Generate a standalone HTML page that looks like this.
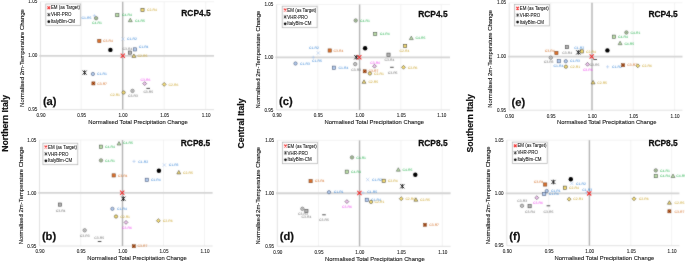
<!DOCTYPE html>
<html><head><meta charset="utf-8"><style>
html,body{margin:0;padding:0;background:#fff;}
svg{display:block;will-change:transform;}
.l{text-rendering:geometricPrecision;}
text{font-family:"Liberation Sans", sans-serif;}
</style></head><body>
<svg width="685" height="262" viewBox="0 0 685 262" font-family='"Liberation Sans", sans-serif'>
<defs><filter id="soft" filterUnits="userSpaceOnUse" x="0" y="0" width="685" height="262" color-interpolation-filters="sRGB"><feConvolveMatrix order="3" kernelMatrix="1 2 1 2 20 2 1 2 1" divisor="32" edgeMode="duplicate"/></filter></defs>
<g filter="url(#soft)">
<rect width="685" height="262" fill="#fff"/>
<path d="M81.2 1.7V109.6" stroke="#eeeeee" stroke-width="0.7"/>
<path d="M164.2 1.7V109.6" stroke="#eeeeee" stroke-width="0.7"/>
<path d="M205.7 1.7V109.6" stroke="#eeeeee" stroke-width="0.7"/>
<path d="M40.5 1.7H214" stroke="#eeeeee" stroke-width="0.7"/>
<path d="M40.5 1.7V109.6H214" stroke="#d9d9d9" stroke-width="0.8" fill="none"/>
<path d="M39.3 55.85H214" stroke="#d4d4d4" stroke-width="1.8"/>
<path d="M122.7 1.7V109.6" stroke="#b4b4b4" stroke-width="1.4"/>
<rect x="45.8" y="4" width="34.9" height="21.5" fill="#fff" stroke="#b0b0b0" stroke-width="0.7"/>
<path d="M47.45 6.4l2.7 2.7M50.15 6.4l-2.7 2.7" stroke="#f02020" stroke-width="1.15"/>
<path d="M47.5 13.4l2.6 2.6M50.1 13.4l-2.6 2.6M48.8 13.2v3" stroke="#202020" stroke-width="0.9"/>
<circle cx="48.8" cy="21.65" r="1.35" fill="#000"/>
<text class="l" x="91.4" y="19.1" fill="#2f7fd4" font-size="3.4" text-anchor="end">C1-R5</text>
<text class="l" x="92.1" y="23.7" fill="#22b04a" font-size="3.4" text-anchor="start">C4-R1</text>
<text class="l" x="122" y="16.3" fill="#22b04a" font-size="3.4" text-anchor="start">C4-R4</text>
<text class="l" x="135" y="21.5" fill="#22b04a" font-size="3.4" text-anchor="start">C4-R5</text>
<text class="l" x="147" y="11.1" fill="#c9a227" font-size="3.4" text-anchor="start">C2-R4</text>
<text class="l" x="103" y="42.2" fill="#d2691e" font-size="3.4" text-anchor="start">C3-R4</text>
<text class="l" x="127" y="40.2" fill="#2f7fd4" font-size="3.4" text-anchor="start">C1-R2</text>
<text class="l" x="122.5" y="49.6" fill="#6a6a6a" font-size="3.4" text-anchor="start">C3-R4</text>
<text class="l" x="138.7" y="48.2" fill="#2f7fd4" font-size="3.4" text-anchor="start">C1-R4</text>
<text class="l" x="137.6" y="57.2" fill="#c9a227" font-size="3.4" text-anchor="start">C2-R5</text>
<text class="l" x="97" y="75.2" fill="#2f7fd4" font-size="3.4" text-anchor="start">C1-R1</text>
<text class="l" x="97.2" y="84.6" fill="#d2691e" font-size="3.4" text-anchor="start">C3-R7</text>
<text class="l" x="140.6" y="80.7" fill="#ee3fee" font-size="3.4" text-anchor="start">C3-R6</text>
<text class="l" x="168.6" y="85.6" fill="#c9a227" font-size="3.4" text-anchor="start">C2-R6</text>
<text class="l" x="128" y="97.2" fill="#6a6a6a" font-size="3.4" text-anchor="start">C3-R3</text>
<text class="l" x="143.4" y="92.9" fill="#6a6a6a" font-size="3.4" text-anchor="start">C3-R5</text>
<text class="l" x="120" y="96.2" fill="#c9a227" font-size="3.4" text-anchor="end">C2-R1</text>
<path d="M92.8 15.7h3.2M94.4 14.1v3.2" stroke="#a8c4ec" stroke-width="0.6"/>
<circle cx="96.1" cy="18.2" r="1.7" fill="#c4e8b0" stroke="#505050" stroke-width="0.6"/><path d="M94.9 18.2h2.4M96.1 17v2.4" stroke="#606060" stroke-width="0.3"/>
<rect x="115.7" y="13.5" width="3.2" height="3.2" fill="#bde0a8" stroke="#505e50" stroke-width="0.6"/>
<path d="M130.3 18.25L132.25 21.7H128.35Z" fill="#bde0a8" stroke="#505e50" stroke-width="0.6"/>
<rect x="140.9" y="8.3" width="3.2" height="3.2" fill="#f6dc70" stroke="#545040" stroke-width="0.6"/>
<rect x="97.7" y="39.4" width="3.2" height="3.2" fill="#e0702a" stroke="#7a4a2a" stroke-width="0.6"/>
<path d="M121.4 37.4L124.6 40.6M124.6 37.4L121.4 40.6" stroke="#a8c4ec" stroke-width="0.6"/>
<rect x="128.4" y="51" width="3.2" height="3.2" fill="#b4b4b4" stroke="#4a4a4a" stroke-width="0.6"/>
<rect x="133.4" y="47.8" width="3.2" height="3.2" fill="#b4ccef" stroke="#4e5e7c" stroke-width="0.6"/>
<path d="M133.9 53.95L135.85 57.4H131.95Z" fill="#f6dc70" stroke="#545040" stroke-width="0.6"/>
<circle cx="92.9" cy="74" r="1.65" fill="#b4ccef" stroke="#4e5e7c" stroke-width="0.6"/>
<rect x="91.85" y="81.85" width="3.1" height="3.1" fill="#e0702a" stroke="#7a4a2a" stroke-width="0.5"/><path d="M92.1 82.1L94.7 84.7M94.7 82.1L92.1 84.7" stroke="#5a2008" stroke-width="0.6"/>
<path d="M144.7 81.65L146.65 83.6L144.7 85.55L142.75 83.6Z" fill="#f0c4f0" stroke="#5a4a5a" stroke-width="0.6"/>
<path d="M164.2 82.45L166.15 84.4L164.2 86.35L162.25 84.4Z" fill="#f6dc70" stroke="#545040" stroke-width="0.6"/>
<circle cx="132.5" cy="90.9" r="1.7" fill="#eeeeee" stroke="#505050" stroke-width="0.6"/><path d="M131.3 90.9h2.4M132.5 89.7v2.4" stroke="#606060" stroke-width="0.3"/>
<path d="M146.4 88.4h3.6" stroke="#3a3a3a" stroke-width="0.9"/>
<circle cx="123.6" cy="92.5" r="1.65" fill="#f6dc70" stroke="#545040" stroke-width="0.6"/>
<circle cx="110.4" cy="49.9" r="2.2" fill="#000"/>
<path d="M120.7 53.7L124.9 57.9M124.9 53.7L120.7 57.9" stroke="#f03030" stroke-width="1.1"/>
<path d="M82.55 70.55L86.65 74.65M86.65 70.55L82.55 74.65M84.6 70.3V74.9" stroke="#1a1a1a" stroke-width="0.95"/>
<path d="M80.7 140V246" stroke="#eeeeee" stroke-width="0.7"/>
<path d="M163.5 140V246" stroke="#eeeeee" stroke-width="0.7"/>
<path d="M204.5 140V246" stroke="#eeeeee" stroke-width="0.7"/>
<path d="M39.5 140H212.6" stroke="#eeeeee" stroke-width="0.7"/>
<path d="M39.5 140V246H212.6" stroke="#d9d9d9" stroke-width="0.8" fill="none"/>
<path d="M38.3 192.95H212.6" stroke="#d4d4d4" stroke-width="1.8"/>
<path d="M122.5 140V246" stroke="#b4b4b4" stroke-width="1.4"/>
<rect x="42.9" y="143.2" width="34.9" height="21.5" fill="#fff" stroke="#b0b0b0" stroke-width="0.7"/>
<path d="M44.55 145.6l2.7 2.7M47.25 145.6l-2.7 2.7" stroke="#f02020" stroke-width="1.15"/>
<path d="M44.6 152.6l2.6 2.6M47.2 152.6l-2.6 2.6M45.9 152.4v3" stroke="#202020" stroke-width="0.9"/>
<circle cx="45.9" cy="160.85" r="1.35" fill="#000"/>
<text class="l" x="123" y="144.4" fill="#22b04a" font-size="3.4" text-anchor="start">C4-R5</text>
<text class="l" x="105" y="147.9" fill="#22b04a" font-size="3.4" text-anchor="start">C4-R4</text>
<text class="l" x="105" y="161.6" fill="#22b04a" font-size="3.4" text-anchor="start">C4-R1</text>
<text class="l" x="138.3" y="162.6" fill="#2f7fd4" font-size="3.4" text-anchor="start">C1-R2</text>
<text class="l" x="168.7" y="166.2" fill="#2f7fd4" font-size="3.4" text-anchor="start">C1-R3</text>
<text class="l" x="117.7" y="176.6" fill="#d2691e" font-size="3.4" text-anchor="start">C3-R4</text>
<text class="l" x="150.9" y="181" fill="#2f7fd4" font-size="3.4" text-anchor="start">C1-R4</text>
<text class="l" x="183" y="173.7" fill="#c9a227" font-size="3.4" text-anchor="start">C2-R5</text>
<text class="l" x="55.7" y="211.5" fill="#6a6a6a" font-size="3.4" text-anchor="start">C3-R4</text>
<text class="l" x="117" y="210" fill="#2f7fd4" font-size="3.4" text-anchor="start">C1-R4</text>
<text class="l" x="120.2" y="217.7" fill="#c9a227" font-size="3.4" text-anchor="start">C2-R1</text>
<text class="l" x="122" y="228.8" fill="#ee3fee" font-size="3.4" text-anchor="start">C3-R6</text>
<text class="l" x="162.8" y="221.9" fill="#c9a227" font-size="3.4" text-anchor="start">C2-R6</text>
<text class="l" x="79.8" y="236.5" fill="#6a6a6a" font-size="3.4" text-anchor="start">C3-R3</text>
<text class="l" x="94.3" y="239.4" fill="#6a6a6a" font-size="3.4" text-anchor="start">C3-R5</text>
<text class="l" x="137.5" y="247.4" fill="#d2691e" font-size="3.4" text-anchor="start">C3-R7</text>
<path d="M119 141.55L120.95 145H117.05Z" fill="#bde0a8" stroke="#505e50" stroke-width="0.6"/>
<rect x="99.4" y="145.1" width="3.2" height="3.2" fill="#bde0a8" stroke="#505e50" stroke-width="0.6"/>
<circle cx="101" cy="160.4" r="1.7" fill="#c4e8b0" stroke="#505050" stroke-width="0.6"/><path d="M99.8 160.4h2.4M101 159.2v2.4" stroke="#606060" stroke-width="0.3"/>
<path d="M132.4 161.4h3.2M134 159.8v3.2" stroke="#a8c4ec" stroke-width="0.6"/>
<path d="M162.8 163.4L166 166.6M166 163.4L162.8 166.6" stroke="#a8c4ec" stroke-width="0.6"/>
<rect x="112.1" y="173.8" width="3.2" height="3.2" fill="#e0702a" stroke="#7a4a2a" stroke-width="0.6"/>
<rect x="145.2" y="178.2" width="3.2" height="3.2" fill="#b4ccef" stroke="#4e5e7c" stroke-width="0.6"/>
<path d="M178.8 170.45L180.75 173.9H176.85Z" fill="#f6dc70" stroke="#545040" stroke-width="0.6"/>
<rect x="58.4" y="203" width="3.2" height="3.2" fill="#b4b4b4" stroke="#4a4a4a" stroke-width="0.6"/>
<circle cx="112.4" cy="208.8" r="1.65" fill="#b4ccef" stroke="#4e5e7c" stroke-width="0.6"/>
<circle cx="116" cy="216.5" r="1.65" fill="#f6dc70" stroke="#545040" stroke-width="0.6"/>
<path d="M126 220.45L127.95 222.4L126 224.35L124.05 222.4Z" fill="#f0c4f0" stroke="#5a4a5a" stroke-width="0.6"/>
<path d="M158.4 218.75L160.35 220.7L158.4 222.65L156.45 220.7Z" fill="#f6dc70" stroke="#545040" stroke-width="0.6"/>
<circle cx="84.7" cy="230.3" r="1.7" fill="#eeeeee" stroke="#505050" stroke-width="0.6"/><path d="M83.5 230.3h2.4M84.7 229.1v2.4" stroke="#606060" stroke-width="0.3"/>
<path d="M97.8 241.5h3.6" stroke="#3a3a3a" stroke-width="0.9"/>
<rect x="132.25" y="244.65" width="3.1" height="3.1" fill="#e0702a" stroke="#7a4a2a" stroke-width="0.5"/><path d="M132.5 244.9L135.1 247.5M135.1 244.9L132.5 247.5" stroke="#5a2008" stroke-width="0.6"/>
<circle cx="158.9" cy="170.8" r="2.2" fill="#000"/>
<path d="M120.1 190.6L124.3 194.8M124.3 190.6L120.1 194.8" stroke="#f03030" stroke-width="1.1"/>
<path d="M121.35 196.65L125.45 200.75M125.45 196.65L121.35 200.75M123.4 196.4V201" stroke="#1a1a1a" stroke-width="0.95"/>
<path d="M317.8 4.5V109.9" stroke="#eeeeee" stroke-width="0.7"/>
<path d="M400.8 4.5V109.9" stroke="#eeeeee" stroke-width="0.7"/>
<path d="M441.3 4.5V109.9" stroke="#eeeeee" stroke-width="0.7"/>
<path d="M276.6 4.5H450" stroke="#eeeeee" stroke-width="0.7"/>
<path d="M276.6 4.5V109.9H450" stroke="#d9d9d9" stroke-width="0.8" fill="none"/>
<path d="M275.4 57.4H450" stroke="#d4d4d4" stroke-width="1.8"/>
<path d="M359.6 4.5V109.9" stroke="#b4b4b4" stroke-width="1.4"/>
<rect x="282.2" y="6.2" width="34.9" height="21.5" fill="#fff" stroke="#b0b0b0" stroke-width="0.7"/>
<path d="M283.85 8.6l2.7 2.7M286.55 8.6l-2.7 2.7" stroke="#f02020" stroke-width="1.15"/>
<path d="M283.9 15.6l2.6 2.6M286.5 15.6l-2.6 2.6M285.2 15.4v3" stroke="#202020" stroke-width="0.9"/>
<circle cx="285.2" cy="23.85" r="1.35" fill="#000"/>
<text class="l" x="309" y="49.4" fill="#2f7fd4" font-size="3.4" text-anchor="start">C1-R2</text>
<text class="l" x="312" y="62.2" fill="#2f7fd4" font-size="3.4" text-anchor="start">C1-R5</text>
<text class="l" x="300" y="64.7" fill="#2f7fd4" font-size="3.4" text-anchor="start">C1-R3</text>
<text class="l" x="333.6" y="51.7" fill="#d2691e" font-size="3.4" text-anchor="start">C3-R4</text>
<text class="l" x="338.5" y="68.9" fill="#2f7fd4" font-size="3.4" text-anchor="start">C1-R4</text>
<text class="l" x="351.2" y="70.6" fill="#6a6a6a" font-size="3.4" text-anchor="start">C3-R3</text>
<text class="l" x="360" y="21.7" fill="#22b04a" font-size="3.4" text-anchor="start">C4-R1</text>
<text class="l" x="379.8" y="35.2" fill="#22b04a" font-size="3.4" text-anchor="start">C4-R4</text>
<text class="l" x="415.5" y="39.4" fill="#22b04a" font-size="3.4" text-anchor="start">C4-R5</text>
<text class="l" x="399.5" y="52.1" fill="#c9a227" font-size="3.4" text-anchor="start">C2-R4</text>
<text class="l" x="384.6" y="61.1" fill="#6a6a6a" font-size="3.4" text-anchor="start">C3-R4</text>
<text class="l" x="370.3" y="63.7" fill="#ee3fee" font-size="3.4" text-anchor="start">C3-R6</text>
<text class="l" x="368.6" y="72" fill="#d2691e" font-size="3.4" text-anchor="start">C3-R7</text>
<text class="l" x="374" y="74.7" fill="#c9a227" font-size="3.4" text-anchor="start">C2-R1</text>
<text class="l" x="387.7" y="73.7" fill="#6a6a6a" font-size="3.4" text-anchor="start">C3-R5</text>
<text class="l" x="407.7" y="68.5" fill="#c9a227" font-size="3.4" text-anchor="start">C2-R6</text>
<text class="l" x="368.4" y="83.1" fill="#c9a227" font-size="3.4" text-anchor="start">C2-R5</text>
<path d="M316.7 51.4L319.9 54.6M319.9 51.4L316.7 54.6" stroke="#a8c4ec" stroke-width="0.6"/>
<path d="M311.7 57.3h3.2M313.3 55.7v3.2" stroke="#a8c4ec" stroke-width="0.6"/>
<circle cx="295.5" cy="63.5" r="1.65" fill="#b4ccef" stroke="#4e5e7c" stroke-width="0.6"/>
<rect x="328.1" y="48.9" width="3.2" height="3.2" fill="#e0702a" stroke="#7a4a2a" stroke-width="0.6"/>
<rect x="332.3" y="66.1" width="3.2" height="3.2" fill="#b4ccef" stroke="#4e5e7c" stroke-width="0.6"/>
<circle cx="355.2" cy="64.1" r="1.7" fill="#eeeeee" stroke="#505050" stroke-width="0.6"/><path d="M354 64.1h2.4M355.2 62.9v2.4" stroke="#606060" stroke-width="0.3"/>
<circle cx="355.7" cy="20.5" r="1.7" fill="#c4e8b0" stroke="#505050" stroke-width="0.6"/><path d="M354.5 20.5h2.4M355.7 19.3v2.4" stroke="#606060" stroke-width="0.3"/>
<rect x="373.6" y="32.4" width="3.2" height="3.2" fill="#bde0a8" stroke="#505e50" stroke-width="0.6"/>
<path d="M411.3 36.15L413.25 39.6H409.35Z" fill="#bde0a8" stroke="#505e50" stroke-width="0.6"/>
<rect x="403.5" y="44.3" width="3.2" height="3.2" fill="#f6dc70" stroke="#545040" stroke-width="0.6"/>
<rect x="386.9" y="53.1" width="3.2" height="3.2" fill="#b4b4b4" stroke="#4a4a4a" stroke-width="0.6"/>
<path d="M374.5 64.25L376.45 66.2L374.5 68.15L372.55 66.2Z" fill="#f0c4f0" stroke="#5a4a5a" stroke-width="0.6"/>
<rect x="363.15" y="69.75" width="3.1" height="3.1" fill="#e0702a" stroke="#7a4a2a" stroke-width="0.5"/><path d="M363.4 70L366 72.6M366 70L363.4 72.6" stroke="#5a2008" stroke-width="0.6"/>
<circle cx="369.9" cy="73.5" r="1.65" fill="#f6dc70" stroke="#545040" stroke-width="0.6"/>
<path d="M390.1 67.3h3.6" stroke="#3a3a3a" stroke-width="0.9"/>
<path d="M403.5 65.35L405.45 67.3L403.5 69.25L401.55 67.3Z" fill="#f6dc70" stroke="#545040" stroke-width="0.6"/>
<path d="M364 79.85L365.95 83.3H362.05Z" fill="#f6dc70" stroke="#545040" stroke-width="0.6"/>
<circle cx="365.1" cy="48.3" r="2.2" fill="#000"/>
<path d="M354.25 55.25L358.35 59.35M358.35 55.25L354.25 59.35M356.3 55V59.6" stroke="#1a1a1a" stroke-width="0.95"/>
<path d="M357.2 55.2L361.4 59.4M361.4 55.2L357.2 59.4" stroke="#f03030" stroke-width="1.1"/>
<path d="M318.5 140.4V246.3" stroke="#eeeeee" stroke-width="0.7"/>
<path d="M400.9 140.4V246.3" stroke="#eeeeee" stroke-width="0.7"/>
<path d="M442.3 140.4V246.3" stroke="#eeeeee" stroke-width="0.7"/>
<path d="M277.3 140.4H450.6" stroke="#eeeeee" stroke-width="0.7"/>
<path d="M277.3 140.4V246.3H450.6" stroke="#d9d9d9" stroke-width="0.8" fill="none"/>
<path d="M276.1 193.25H450.6" stroke="#d4d4d4" stroke-width="1.8"/>
<path d="M359.55 140.4V246.3" stroke="#b4b4b4" stroke-width="1.4"/>
<rect x="282.5" y="142.2" width="34.9" height="21.5" fill="#fff" stroke="#b0b0b0" stroke-width="0.7"/>
<path d="M284.15 144.6l2.7 2.7M286.85 144.6l-2.7 2.7" stroke="#f02020" stroke-width="1.15"/>
<path d="M284.2 151.6l2.6 2.6M286.8 151.6l-2.6 2.6M285.5 151.4v3" stroke="#202020" stroke-width="0.9"/>
<circle cx="285.5" cy="159.85" r="1.35" fill="#000"/>
<text class="l" x="356.2" y="158.6" fill="#22b04a" font-size="3.4" text-anchor="start">C4-R1</text>
<text class="l" x="351" y="172.9" fill="#22b04a" font-size="3.4" text-anchor="start">C4-R4</text>
<text class="l" x="314.7" y="182.3" fill="#d2691e" font-size="3.4" text-anchor="start">C3-R4</text>
<text class="l" x="372" y="180.9" fill="#2f7fd4" font-size="3.4" text-anchor="start">C1-R2</text>
<text class="l" x="387.8" y="182" fill="#c9a227" font-size="3.4" text-anchor="start">C2-R4</text>
<text class="l" x="402.5" y="171" fill="#22b04a" font-size="3.4" text-anchor="start">C4-R5</text>
<text class="l" x="367.3" y="193.2" fill="#2f7fd4" font-size="3.4" text-anchor="start">C1-R5</text>
<text class="l" x="371" y="200.6" fill="#2f7fd4" font-size="3.4" text-anchor="start">C1-R4</text>
<text class="l" x="374.6" y="203.1" fill="#c9a227" font-size="3.4" text-anchor="start">C2-R1</text>
<text class="l" x="342" y="207.8" fill="#ee3fee" font-size="3.4" text-anchor="start">C3-R6</text>
<text class="l" x="405.4" y="199.9" fill="#c9a227" font-size="3.4" text-anchor="start">C2-R6</text>
<text class="l" x="420" y="201" fill="#c9a227" font-size="3.4" text-anchor="start">C2-R5</text>
<text class="l" x="429.2" y="226" fill="#d2691e" font-size="3.4" text-anchor="start">C3-R7</text>
<text class="l" x="333.7" y="193.4" fill="#2f7fd4" font-size="3.4" text-anchor="start">C1-R1</text>
<text class="l" x="298.1" y="215.3" fill="#6a6a6a" font-size="3.4" text-anchor="start">C3-R3</text>
<text class="l" x="301.5" y="217.9" fill="#6a6a6a" font-size="3.4" text-anchor="start">C3-R4</text>
<text class="l" x="319.1" y="221.4" fill="#6a6a6a" font-size="3.4" text-anchor="start">C3-R5</text>
<circle cx="352" cy="157.4" r="1.7" fill="#c4e8b0" stroke="#505050" stroke-width="0.6"/><path d="M350.8 157.4h2.4M352 156.2v2.4" stroke="#606060" stroke-width="0.3"/>
<rect x="345.2" y="170.1" width="3.2" height="3.2" fill="#bde0a8" stroke="#505e50" stroke-width="0.6"/>
<rect x="309" y="179.5" width="3.2" height="3.2" fill="#e0702a" stroke="#7a4a2a" stroke-width="0.6"/>
<path d="M366.1 178L369.3 181.2M369.3 178L366.1 181.2" stroke="#a8c4ec" stroke-width="0.6"/>
<rect x="382.1" y="179.2" width="3.2" height="3.2" fill="#f6dc70" stroke="#545040" stroke-width="0.6"/>
<path d="M398.3 167.75L400.25 171.2H396.35Z" fill="#bde0a8" stroke="#505e50" stroke-width="0.6"/>
<path d="M361.4 192.8h3.2M363 191.2v3.2" stroke="#a8c4ec" stroke-width="0.6"/>
<rect x="365.2" y="198.2" width="3.2" height="3.2" fill="#b4ccef" stroke="#4e5e7c" stroke-width="0.6"/>
<circle cx="371" cy="201.9" r="1.65" fill="#f6dc70" stroke="#545040" stroke-width="0.6"/>
<path d="M346.9 199.65L348.85 201.6L346.9 203.55L344.95 201.6Z" fill="#f0c4f0" stroke="#5a4a5a" stroke-width="0.6"/>
<path d="M401.2 196.75L403.15 198.7L401.2 200.65L399.25 198.7Z" fill="#f6dc70" stroke="#545040" stroke-width="0.6"/>
<path d="M415.9 197.75L417.85 201.2H413.95Z" fill="#f6dc70" stroke="#545040" stroke-width="0.6"/>
<rect x="423.45" y="223.25" width="3.1" height="3.1" fill="#e0702a" stroke="#7a4a2a" stroke-width="0.5"/><path d="M423.7 223.5L426.3 226.1M426.3 223.5L423.7 226.1" stroke="#5a2008" stroke-width="0.6"/>
<circle cx="329" cy="192.2" r="1.65" fill="#b4ccef" stroke="#4e5e7c" stroke-width="0.6"/>
<circle cx="302.4" cy="208.8" r="1.7" fill="#eeeeee" stroke="#505050" stroke-width="0.6"/><path d="M301.2 208.8h2.4M302.4 207.6v2.4" stroke="#606060" stroke-width="0.3"/>
<rect x="304.8" y="209.4" width="3.2" height="3.2" fill="#b4b4b4" stroke="#4a4a4a" stroke-width="0.6"/>
<path d="M322.2 214.8h3.6" stroke="#3a3a3a" stroke-width="0.9"/>
<circle cx="415.3" cy="174.8" r="2.2" fill="#000"/>
<path d="M400.25 184.25L404.35 188.35M404.35 184.25L400.25 188.35M402.3 184V188.6" stroke="#1a1a1a" stroke-width="0.95"/>
<path d="M357.3 190.9L361.5 195.1M361.5 190.9L357.3 195.1" stroke="#f03030" stroke-width="1.1"/>
<path d="M550.7 2.75V110.2" stroke="#eeeeee" stroke-width="0.7"/>
<path d="M633.2 2.75V110.2" stroke="#eeeeee" stroke-width="0.7"/>
<path d="M674.6 2.75V110.2" stroke="#eeeeee" stroke-width="0.7"/>
<path d="M509.2 2.75H682.5" stroke="#eeeeee" stroke-width="0.7"/>
<path d="M509.2 2.75V110.2H682.5" stroke="#d9d9d9" stroke-width="0.8" fill="none"/>
<path d="M508 56.7H682.5" stroke="#d4d4d4" stroke-width="1.8"/>
<path d="M592 2.75V110.2" stroke="#b4b4b4" stroke-width="1.4"/>
<rect x="514.6" y="4.4" width="34.9" height="21.5" fill="#fff" stroke="#b0b0b0" stroke-width="0.7"/>
<path d="M516.25 6.8l2.7 2.7M518.95 6.8l-2.7 2.7" stroke="#f02020" stroke-width="1.15"/>
<path d="M516.3 13.8l2.6 2.6M518.9 13.8l-2.6 2.6M517.6 13.6v3" stroke="#202020" stroke-width="0.9"/>
<circle cx="517.6" cy="22.05" r="1.35" fill="#000"/>
<text class="l" x="630.6" y="33.7" fill="#22b04a" font-size="3.4" text-anchor="start">C4-R1</text>
<text class="l" x="618" y="37.9" fill="#22b04a" font-size="3.4" text-anchor="start">C4-R4</text>
<text class="l" x="624.4" y="44.5" fill="#22b04a" font-size="3.4" text-anchor="start">C4-R5</text>
<text class="l" x="562.3" y="53.8" fill="#6a6a6a" font-size="3.4" text-anchor="start">C3-R4</text>
<text class="l" x="554.6" y="52" fill="#d2691e" font-size="3.4" text-anchor="end">C3-R4</text>
<text class="l" x="574.3" y="48.6" fill="#2f7fd4" font-size="3.4" text-anchor="start">C1-R2</text>
<text class="l" x="586" y="52.6" fill="#c9a227" font-size="3.4" text-anchor="start">C2-R4</text>
<text class="l" x="543.7" y="63" fill="#6a6a6a" font-size="3.4" text-anchor="start">C3-R3</text>
<text class="l" x="553.5" y="66.6" fill="#2f7fd4" font-size="3.4" text-anchor="start">C1-R4</text>
<text class="l" x="570" y="62.4" fill="#2f7fd4" font-size="3.4" text-anchor="start">C1-R3</text>
<text class="l" x="570.3" y="68" fill="#c9a227" font-size="3.4" text-anchor="start">C2-R1</text>
<text class="l" x="582.9" y="70.7" fill="#ee3fee" font-size="3.4" text-anchor="start">C3-R6</text>
<text class="l" x="589.6" y="65.6" fill="#6a6a6a" font-size="3.4" text-anchor="start">C3-R5</text>
<text class="l" x="612" y="68" fill="#2f7fd4" font-size="3.4" text-anchor="start">C1-R2</text>
<text class="l" x="627.3" y="66.4" fill="#d2691e" font-size="3.4" text-anchor="start">C3-R7</text>
<text class="l" x="642" y="67" fill="#c9a227" font-size="3.4" text-anchor="start">C2-R6</text>
<text class="l" x="597.2" y="83.7" fill="#c9a227" font-size="3.4" text-anchor="start">C2-R5</text>
<circle cx="626.4" cy="32.5" r="1.7" fill="#c4e8b0" stroke="#505050" stroke-width="0.6"/><path d="M625.2 32.5h2.4M626.4 31.3v2.4" stroke="#606060" stroke-width="0.3"/>
<rect x="612.3" y="35.1" width="3.2" height="3.2" fill="#bde0a8" stroke="#505e50" stroke-width="0.6"/>
<path d="M620.1 41.25L622.05 44.7H618.15Z" fill="#bde0a8" stroke="#505e50" stroke-width="0.6"/>
<rect x="565.4" y="45.5" width="3.2" height="3.2" fill="#b4b4b4" stroke="#4a4a4a" stroke-width="0.6"/>
<rect x="554.8" y="51.4" width="3.2" height="3.2" fill="#e0702a" stroke="#7a4a2a" stroke-width="0.6"/>
<path d="M576.9 50.8L580.1 54M580.1 50.8L576.9 54" stroke="#a8c4ec" stroke-width="0.6"/>
<rect x="580.1" y="49.8" width="3.2" height="3.2" fill="#f6dc70" stroke="#545040" stroke-width="0.6"/>
<circle cx="550.8" cy="57.7" r="1.7" fill="#eeeeee" stroke="#505050" stroke-width="0.6"/><path d="M549.6 57.7h2.4M550.8 56.5v2.4" stroke="#606060" stroke-width="0.3"/>
<rect x="557.2" y="59.6" width="3.2" height="3.2" fill="#b4ccef" stroke="#4e5e7c" stroke-width="0.6"/>
<circle cx="565.8" cy="61.2" r="1.65" fill="#b4ccef" stroke="#4e5e7c" stroke-width="0.6"/>
<circle cx="565.9" cy="66.7" r="1.65" fill="#f6dc70" stroke="#545040" stroke-width="0.6"/>
<path d="M587.5 62.35L589.45 64.3L587.5 66.25L585.55 64.3Z" fill="#f0c4f0" stroke="#5a4a5a" stroke-width="0.6"/>
<path d="M593.4 59.5h3.6" stroke="#3a3a3a" stroke-width="0.9"/>
<path d="M606 66.8h3.2M607.6 65.2v3.2" stroke="#a8c4ec" stroke-width="0.6"/>
<rect x="621.55" y="63.65" width="3.1" height="3.1" fill="#e0702a" stroke="#7a4a2a" stroke-width="0.5"/><path d="M621.8 63.9L624.4 66.5M624.4 63.9L621.8 66.5" stroke="#5a2008" stroke-width="0.6"/>
<path d="M637.8 63.85L639.75 65.8L637.8 67.75L635.85 65.8Z" fill="#f6dc70" stroke="#545040" stroke-width="0.6"/>
<path d="M593.1 80.45L595.05 83.9H591.15Z" fill="#f6dc70" stroke="#545040" stroke-width="0.6"/>
<circle cx="607.4" cy="50.4" r="2.2" fill="#000"/>
<path d="M576.25 50.35L580.35 54.45M580.35 50.35L576.25 54.45M578.3 50.1V54.7" stroke="#1a1a1a" stroke-width="0.95"/>
<path d="M589.6 54.4L593.8 58.6M593.8 54.4L589.6 58.6" stroke="#f03030" stroke-width="1.1"/>
<path d="M548.7 140.2V245.7" stroke="#eeeeee" stroke-width="0.7"/>
<path d="M630.8 140.2V245.7" stroke="#eeeeee" stroke-width="0.7"/>
<path d="M671.6 140.2V245.7" stroke="#eeeeee" stroke-width="0.7"/>
<path d="M506.8 140.2H679.4" stroke="#eeeeee" stroke-width="0.7"/>
<path d="M506.8 140.2V245.7H679.4" stroke="#d9d9d9" stroke-width="0.8" fill="none"/>
<path d="M505.6 193.35H679.4" stroke="#d4d4d4" stroke-width="1.8"/>
<path d="M589.4 140.2V245.7" stroke="#b4b4b4" stroke-width="1.4"/>
<rect x="512.3" y="142.1" width="34.9" height="21.5" fill="#fff" stroke="#b0b0b0" stroke-width="0.7"/>
<path d="M513.95 144.5l2.7 2.7M516.65 144.5l-2.7 2.7" stroke="#f02020" stroke-width="1.15"/>
<path d="M514 151.5l2.6 2.6M516.6 151.5l-2.6 2.6M515.3 151.3v3" stroke="#202020" stroke-width="0.9"/>
<circle cx="515.3" cy="159.75" r="1.35" fill="#000"/>
<text class="l" x="660" y="171.6" fill="#22b04a" font-size="3.4" text-anchor="start">C4-R1</text>
<text class="l" x="660" y="177.3" fill="#22b04a" font-size="3.4" text-anchor="start">C4-R4</text>
<text class="l" x="676.3" y="177.3" fill="#22b04a" font-size="3.4" text-anchor="start">C4-R5</text>
<text class="l" x="638.8" y="200" fill="#c9a227" font-size="3.4" text-anchor="start">C2-R6</text>
<text class="l" x="674.5" y="204" fill="#c9a227" font-size="3.4" text-anchor="start">C2-R5</text>
<text class="l" x="674.5" y="212.5" fill="#d2691e" font-size="3.4" text-anchor="start">C3-R7</text>
<text class="l" x="543.5" y="183.2" fill="#d2691e" font-size="3.4" text-anchor="end">C3-R4</text>
<text class="l" x="576" y="184.7" fill="#2f7fd4" font-size="3.4" text-anchor="start">C1-R2</text>
<text class="l" x="569.1" y="188.9" fill="#c9a227" font-size="3.4" text-anchor="start">C2-R4</text>
<text class="l" x="582.3" y="191.2" fill="#2f7fd4" font-size="3.4" text-anchor="start">C1-R3</text>
<text class="l" x="550.9" y="192.2" fill="#2f7fd4" font-size="3.4" text-anchor="start">C1-R1</text>
<text class="l" x="548.8" y="195.4" fill="#2f7fd4" font-size="3.4" text-anchor="start">C1-R4</text>
<text class="l" x="533" y="204.2" fill="#ee3fee" font-size="3.4" text-anchor="start">C3-R6</text>
<text class="l" x="573.3" y="200.4" fill="#c9a227" font-size="3.4" text-anchor="start">C2-R1</text>
<text class="l" x="517.3" y="201.7" fill="#6a6a6a" font-size="3.4" text-anchor="start">C3-R3</text>
<text class="l" x="525" y="212.5" fill="#6a6a6a" font-size="3.4" text-anchor="start">C3-R4</text>
<text class="l" x="543.5" y="212.5" fill="#6a6a6a" font-size="3.4" text-anchor="start">C3-R5</text>
<circle cx="655.8" cy="170.4" r="1.7" fill="#c4e8b0" stroke="#505050" stroke-width="0.6"/><path d="M654.6 170.4h2.4M655.8 169.2v2.4" stroke="#606060" stroke-width="0.3"/>
<rect x="654.2" y="174.5" width="3.2" height="3.2" fill="#bde0a8" stroke="#505e50" stroke-width="0.6"/>
<path d="M673 174.05L674.95 177.5H671.05Z" fill="#bde0a8" stroke="#505e50" stroke-width="0.6"/>
<path d="M634 196.85L635.95 198.8L634 200.75L632.05 198.8Z" fill="#f6dc70" stroke="#545040" stroke-width="0.6"/>
<path d="M669.4 200.75L671.35 204.2H667.45Z" fill="#f6dc70" stroke="#545040" stroke-width="0.6"/>
<rect x="667.85" y="209.75" width="3.1" height="3.1" fill="#e0702a" stroke="#7a4a2a" stroke-width="0.5"/><path d="M668.1 210L670.7 212.6M670.7 210L668.1 212.6" stroke="#5a2008" stroke-width="0.6"/>
<rect x="543.6" y="182.9" width="3.2" height="3.2" fill="#e0702a" stroke="#7a4a2a" stroke-width="0.6"/>
<path d="M570.2 181.9L573.4 185.1M573.4 181.9L570.2 185.1" stroke="#a8c4ec" stroke-width="0.6"/>
<rect x="563.3" y="186.1" width="3.2" height="3.2" fill="#f6dc70" stroke="#545040" stroke-width="0.6"/>
<path d="M584.9 192.5h3.2M586.5 190.9v3.2" stroke="#a8c4ec" stroke-width="0.6"/>
<circle cx="546.7" cy="191" r="1.65" fill="#b4ccef" stroke="#4e5e7c" stroke-width="0.6"/>
<rect x="542.6" y="192.4" width="3.2" height="3.2" fill="#b4ccef" stroke="#4e5e7c" stroke-width="0.6"/>
<path d="M536.8 195.75L538.75 197.7L536.8 199.65L534.85 197.7Z" fill="#f0c4f0" stroke="#5a4a5a" stroke-width="0.6"/>
<path d="M569.1 197.25L571.05 199.2L569.1 201.15L567.15 199.2Z" fill="#f6dc70" stroke="#545040" stroke-width="0.6"/>
<circle cx="522" cy="205.8" r="1.7" fill="#eeeeee" stroke="#505050" stroke-width="0.6"/><path d="M520.8 205.8h2.4M522 204.6v2.4" stroke="#606060" stroke-width="0.3"/>
<rect x="528" y="204.6" width="3.2" height="3.2" fill="#b4b4b4" stroke="#4a4a4a" stroke-width="0.6"/>
<path d="M546.6 205.8h3.6" stroke="#3a3a3a" stroke-width="0.9"/>
<circle cx="570.8" cy="179.3" r="2.2" fill="#000"/>
<path d="M551.35 179.95L555.45 184.05M555.45 179.95L551.35 184.05M553.4 179.7V184.3" stroke="#1a1a1a" stroke-width="0.95"/>
<path d="M587.1 191.3L591.3 195.5M591.3 191.3L587.1 195.5" stroke="#f03030" stroke-width="1.1"/>
</g>
<text x="41" y="116.9" font-size="4.6" fill="#222" stroke="#222" stroke-width="0.08" text-anchor="middle">0.90</text>
<text x="81.7" y="116.9" font-size="4.6" fill="#222" stroke="#222" stroke-width="0.08" text-anchor="middle">0.95</text>
<text x="123" y="116.9" font-size="4.6" fill="#222" stroke="#222" stroke-width="0.08" text-anchor="middle">1.00</text>
<text x="164.7" y="116.9" font-size="4.6" fill="#222" stroke="#222" stroke-width="0.08" text-anchor="middle">1.05</text>
<text x="206.2" y="116.9" font-size="4.6" fill="#222" stroke="#222" stroke-width="0.08" text-anchor="middle">1.10</text>
<text x="37.3" y="3.4" font-size="4.6" fill="#222" stroke="#222" stroke-width="0.08" text-anchor="end">1.05</text>
<text x="37.3" y="57.4" font-size="4.6" fill="#222" stroke="#222" stroke-width="0.08" text-anchor="end">1.00</text>
<text x="37.3" y="111.3" font-size="4.6" fill="#222" stroke="#222" stroke-width="0.08" text-anchor="end">0.95</text>
<text x="138.1" y="123.8" font-size="5.87" fill="#222" stroke="#222" stroke-width="0.11" text-anchor="middle">Normalised Total Precipitation Change</text>
<text transform="translate(23.6 58.05) rotate(-90)" font-size="5.95" fill="#222" stroke="#222" stroke-width="0.15" text-anchor="middle">Normalised 2m-Temperature Change</text>
<text x="42.9" y="105.1" class="l" font-size="11.2" font-weight="bold" fill="#111" stroke="#111" stroke-width="0.2">(a)</text>
<text x="181.3" y="15.9" font-size="9.8" font-weight="bold" fill="#111" stroke="#111" stroke-width="0.3" textLength="29.4" lengthAdjust="spacingAndGlyphs">RCP4.5</text>
<text x="50.9" y="9.35" font-size="4.45" fill="#111" stroke="#111" stroke-width="0.06" >EM (as Target)</text>
<text x="50.9" y="16.3" font-size="4.45" fill="#111" stroke="#111" stroke-width="0.06" >VHR-PRO</text>
<text x="50.9" y="23.25" font-size="4.45" fill="#111" stroke="#111" stroke-width="0.06" >ItalyBlm-CM</text>
<text x="40" y="253.3" font-size="4.6" fill="#222" stroke="#222" stroke-width="0.08" text-anchor="middle">0.90</text>
<text x="81.2" y="253.3" font-size="4.6" fill="#222" stroke="#222" stroke-width="0.08" text-anchor="middle">0.95</text>
<text x="122.8" y="253.3" font-size="4.6" fill="#222" stroke="#222" stroke-width="0.08" text-anchor="middle">1.00</text>
<text x="164" y="253.3" font-size="4.6" fill="#222" stroke="#222" stroke-width="0.08" text-anchor="middle">1.05</text>
<text x="205" y="253.3" font-size="4.6" fill="#222" stroke="#222" stroke-width="0.08" text-anchor="middle">1.10</text>
<text x="36.3" y="141.7" font-size="4.6" fill="#222" stroke="#222" stroke-width="0.08" text-anchor="end">1.05</text>
<text x="36.3" y="194.5" font-size="4.6" fill="#222" stroke="#222" stroke-width="0.08" text-anchor="end">1.00</text>
<text x="36.3" y="247.7" font-size="4.6" fill="#222" stroke="#222" stroke-width="0.08" text-anchor="end">0.95</text>
<text x="137.1" y="260.2" font-size="5.87" fill="#222" stroke="#222" stroke-width="0.11" text-anchor="middle">Normalised Total Precipitation Change</text>
<text transform="translate(22.6 195.4) rotate(-90)" font-size="5.95" fill="#222" stroke="#222" stroke-width="0.15" text-anchor="middle">Normalised 2m-Temperature Change</text>
<text x="41.9" y="240" class="l" font-size="11.2" font-weight="bold" fill="#111" stroke="#111" stroke-width="0.2">(b)</text>
<text x="180.8" y="146" font-size="9.8" font-weight="bold" fill="#111" stroke="#111" stroke-width="0.3" textLength="29.4" lengthAdjust="spacingAndGlyphs">RCP8.5</text>
<text x="48" y="148.55" font-size="4.45" fill="#111" stroke="#111" stroke-width="0.06" >EM (as Target)</text>
<text x="48" y="155.5" font-size="4.45" fill="#111" stroke="#111" stroke-width="0.06" >VHR-PRO</text>
<text x="48" y="162.45" font-size="4.45" fill="#111" stroke="#111" stroke-width="0.06" >ItalyBlm-CM</text>
<text x="277.1" y="117.2" font-size="4.6" fill="#222" stroke="#222" stroke-width="0.08" text-anchor="middle">0.90</text>
<text x="318.3" y="117.2" font-size="4.6" fill="#222" stroke="#222" stroke-width="0.08" text-anchor="middle">0.95</text>
<text x="359.9" y="117.2" font-size="4.6" fill="#222" stroke="#222" stroke-width="0.08" text-anchor="middle">1.00</text>
<text x="401.3" y="117.2" font-size="4.6" fill="#222" stroke="#222" stroke-width="0.08" text-anchor="middle">1.05</text>
<text x="441.8" y="117.2" font-size="4.6" fill="#222" stroke="#222" stroke-width="0.08" text-anchor="middle">1.10</text>
<text x="273.4" y="6.2" font-size="4.6" fill="#222" stroke="#222" stroke-width="0.08" text-anchor="end">1.05</text>
<text x="273.4" y="58.95" font-size="4.6" fill="#222" stroke="#222" stroke-width="0.08" text-anchor="end">1.00</text>
<text x="273.4" y="111.6" font-size="4.6" fill="#222" stroke="#222" stroke-width="0.08" text-anchor="end">0.95</text>
<text x="374.2" y="124.1" font-size="5.87" fill="#222" stroke="#222" stroke-width="0.11" text-anchor="middle">Normalised Total Precipitation Change</text>
<text transform="translate(259.7 59.6) rotate(-90)" font-size="5.95" fill="#222" stroke="#222" stroke-width="0.15" text-anchor="middle">Normalised 2m-Temperature Change</text>
<text x="279" y="105.4" class="l" font-size="11.2" font-weight="bold" fill="#111" stroke="#111" stroke-width="0.2">(c)</text>
<text x="418.2" y="16.5" font-size="9.8" font-weight="bold" fill="#111" stroke="#111" stroke-width="0.3" textLength="29.4" lengthAdjust="spacingAndGlyphs">RCP4.5</text>
<text x="287.3" y="11.55" font-size="4.45" fill="#111" stroke="#111" stroke-width="0.06" >EM (as Target)</text>
<text x="287.3" y="18.5" font-size="4.45" fill="#111" stroke="#111" stroke-width="0.06" >VHR-PRO</text>
<text x="287.3" y="25.45" font-size="4.45" fill="#111" stroke="#111" stroke-width="0.06" >ItalyBlm-CM</text>
<text x="277.8" y="253.6" font-size="4.6" fill="#222" stroke="#222" stroke-width="0.08" text-anchor="middle">0.90</text>
<text x="319" y="253.6" font-size="4.6" fill="#222" stroke="#222" stroke-width="0.08" text-anchor="middle">0.95</text>
<text x="359.85" y="253.6" font-size="4.6" fill="#222" stroke="#222" stroke-width="0.08" text-anchor="middle">1.00</text>
<text x="401.4" y="253.6" font-size="4.6" fill="#222" stroke="#222" stroke-width="0.08" text-anchor="middle">1.05</text>
<text x="442.8" y="253.6" font-size="4.6" fill="#222" stroke="#222" stroke-width="0.08" text-anchor="middle">1.10</text>
<text x="274.1" y="142.1" font-size="4.6" fill="#222" stroke="#222" stroke-width="0.08" text-anchor="end">1.05</text>
<text x="274.1" y="194.8" font-size="4.6" fill="#222" stroke="#222" stroke-width="0.08" text-anchor="end">1.00</text>
<text x="274.1" y="248" font-size="4.6" fill="#222" stroke="#222" stroke-width="0.08" text-anchor="end">0.95</text>
<text x="374.9" y="260.5" font-size="5.87" fill="#222" stroke="#222" stroke-width="0.11" text-anchor="middle">Normalised Total Precipitation Change</text>
<text transform="translate(260.4 195.75) rotate(-90)" font-size="5.95" fill="#222" stroke="#222" stroke-width="0.15" text-anchor="middle">Normalised 2m-Temperature Change</text>
<text x="279.7" y="240.3" class="l" font-size="11.2" font-weight="bold" fill="#111" stroke="#111" stroke-width="0.2">(d)</text>
<text x="418.2" y="146.2" font-size="9.8" font-weight="bold" fill="#111" stroke="#111" stroke-width="0.3" textLength="29.4" lengthAdjust="spacingAndGlyphs">RCP8.5</text>
<text x="287.6" y="147.55" font-size="4.45" fill="#111" stroke="#111" stroke-width="0.06" >EM (as Target)</text>
<text x="287.6" y="154.5" font-size="4.45" fill="#111" stroke="#111" stroke-width="0.06" >VHR-PRO</text>
<text x="287.6" y="161.45" font-size="4.45" fill="#111" stroke="#111" stroke-width="0.06" >ItalyBlm-CM</text>
<text x="509.7" y="117.5" font-size="4.6" fill="#222" stroke="#222" stroke-width="0.08" text-anchor="middle">0.90</text>
<text x="551.2" y="117.5" font-size="4.6" fill="#222" stroke="#222" stroke-width="0.08" text-anchor="middle">0.95</text>
<text x="592.3" y="117.5" font-size="4.6" fill="#222" stroke="#222" stroke-width="0.08" text-anchor="middle">1.00</text>
<text x="633.7" y="117.5" font-size="4.6" fill="#222" stroke="#222" stroke-width="0.08" text-anchor="middle">1.05</text>
<text x="675.1" y="117.5" font-size="4.6" fill="#222" stroke="#222" stroke-width="0.08" text-anchor="middle">1.10</text>
<text x="506" y="4.45" font-size="4.6" fill="#222" stroke="#222" stroke-width="0.08" text-anchor="end">1.05</text>
<text x="506" y="58.25" font-size="4.6" fill="#222" stroke="#222" stroke-width="0.08" text-anchor="end">1.00</text>
<text x="506" y="111.9" font-size="4.6" fill="#222" stroke="#222" stroke-width="0.08" text-anchor="end">0.95</text>
<text x="606.8" y="124.4" font-size="5.87" fill="#222" stroke="#222" stroke-width="0.11" text-anchor="middle">Normalised Total Precipitation Change</text>
<text transform="translate(492.3 58.88) rotate(-90)" font-size="5.95" fill="#222" stroke="#222" stroke-width="0.15" text-anchor="middle">Normalised 2m-Temperature Change</text>
<text x="511.6" y="105.7" class="l" font-size="11.2" font-weight="bold" fill="#111" stroke="#111" stroke-width="0.2">(e)</text>
<text x="648.4" y="16.5" font-size="9.8" font-weight="bold" fill="#111" stroke="#111" stroke-width="0.3" textLength="29.4" lengthAdjust="spacingAndGlyphs">RCP4.5</text>
<text x="519.7" y="9.75" font-size="4.45" fill="#111" stroke="#111" stroke-width="0.06" >EM (as Target)</text>
<text x="519.7" y="16.7" font-size="4.45" fill="#111" stroke="#111" stroke-width="0.06" >VHR-PRO</text>
<text x="519.7" y="23.65" font-size="4.45" fill="#111" stroke="#111" stroke-width="0.06" >ItalyBlm-CM</text>
<text x="507.3" y="253" font-size="4.6" fill="#222" stroke="#222" stroke-width="0.08" text-anchor="middle">0.90</text>
<text x="549.2" y="253" font-size="4.6" fill="#222" stroke="#222" stroke-width="0.08" text-anchor="middle">0.95</text>
<text x="589.7" y="253" font-size="4.6" fill="#222" stroke="#222" stroke-width="0.08" text-anchor="middle">1.00</text>
<text x="631.3" y="253" font-size="4.6" fill="#222" stroke="#222" stroke-width="0.08" text-anchor="middle">1.05</text>
<text x="672.1" y="253" font-size="4.6" fill="#222" stroke="#222" stroke-width="0.08" text-anchor="middle">1.10</text>
<text x="503.6" y="141.9" font-size="4.6" fill="#222" stroke="#222" stroke-width="0.08" text-anchor="end">1.05</text>
<text x="503.6" y="194.9" font-size="4.6" fill="#222" stroke="#222" stroke-width="0.08" text-anchor="end">1.00</text>
<text x="503.6" y="247.4" font-size="4.6" fill="#222" stroke="#222" stroke-width="0.08" text-anchor="end">0.95</text>
<text x="604.4" y="259.9" font-size="5.87" fill="#222" stroke="#222" stroke-width="0.11" text-anchor="middle">Normalised Total Precipitation Change</text>
<text transform="translate(489.9 195.35) rotate(-90)" font-size="5.95" fill="#222" stroke="#222" stroke-width="0.15" text-anchor="middle">Normalised 2m-Temperature Change</text>
<text x="509.2" y="239.7" class="l" font-size="11.2" font-weight="bold" fill="#111" stroke="#111" stroke-width="0.2">(f)</text>
<text x="648.4" y="146.2" font-size="9.8" font-weight="bold" fill="#111" stroke="#111" stroke-width="0.3" textLength="29.4" lengthAdjust="spacingAndGlyphs">RCP8.5</text>
<text x="517.4" y="147.45" font-size="4.45" fill="#111" stroke="#111" stroke-width="0.06" >EM (as Target)</text>
<text x="517.4" y="154.4" font-size="4.45" fill="#111" stroke="#111" stroke-width="0.06" >VHR-PRO</text>
<text x="517.4" y="161.35" font-size="4.45" fill="#111" stroke="#111" stroke-width="0.06" >ItalyBlm-CM</text>
<text transform="translate(8.2 123.4) rotate(-90)" font-size="8.75" font-weight="bold" fill="#111" stroke="#111" stroke-width="0.2" text-anchor="middle">Northern Italy</text>
<text transform="translate(243.9 123.4) rotate(-90)" font-size="8.75" font-weight="bold" fill="#111" stroke="#111" stroke-width="0.2" text-anchor="middle">Central Italy</text>
<text transform="translate(473.1 123.4) rotate(-90)" font-size="8.75" font-weight="bold" fill="#111" stroke="#111" stroke-width="0.2" text-anchor="middle">Southern Italy</text>
</svg>
</body></html>
